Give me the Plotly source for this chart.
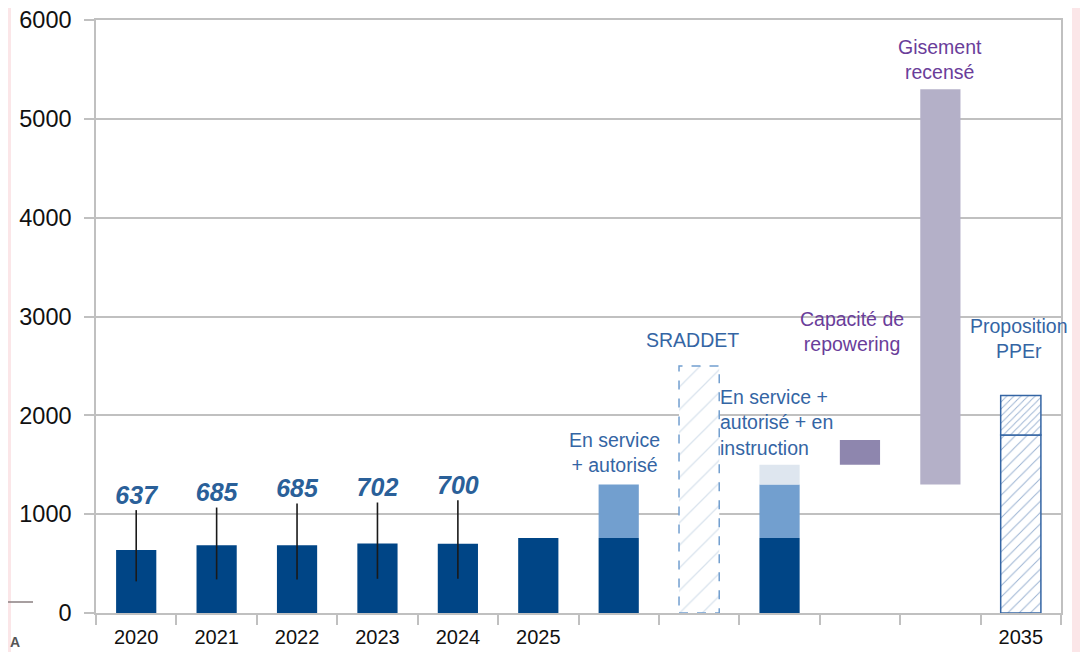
import plotly.graph_objects as go

# ---------------- data ----------------
categories = ["2020", "2021", "2022", "2023", "2024", "2025",
              " ", "  ", "   ", "    ", "     ", "2035"]
years_hist = ["2020", "2021", "2022", "2023", "2024"]
hist_values = [637, 685, 685, 702, 700]
hist_high = [1041, 1067, 1108, 1118, 1142]
hist_low = [320, 340, 340, 346, 346]
hist_labels = ["637", "685", "685", "702", "700"]

# stacked scenario bars
service_cats = ["2025", " ", "   "]
service_values = [760, 760, 760]
autorise_cats = [" ", "   "]
autorise_values = [540, 540]
instruction_cats = ["   "]
instruction_values = [200]

sraddet_cat = ["  "]
sraddet_value = [2500]

repowering_cat = ["    "]
repowering_low = [1500]
repowering_high = [1750]

gisement_cat = ["     "]
gisement_low = [1300]
gisement_high = [5300]

ppe_cat = ["2035"]
ppe_base = [1800]
ppe_high = [2200]

# ---------------- styles ----------------
FONT = "Liberation Sans"
DARK = "#004586"
LIGHT = "#729fcf"
VLIGHT = "#dee6ef"
REPOW = "#8e86ae"
GIS = "#b4b0c8"
BLUE_TXT = "#3465a4"
PURPLE_TXT = "#6a3d9a"
GRID = "#c0c0c0"
BAR_W = 0.5

W, H = 1088, 652
OFF = 8  # page body margin offset
# plot area in page pixels: left 96, right 1061, top 20, bottom 613
L = 96 - OFF
T = 20 - OFF
R = W - (1061 - OFF)
B = H - (613 - OFF)

fig = go.Figure()

# historical bars with range lines
fig.add_trace(go.Bar(
    x=years_hist, y=hist_values, width=BAR_W,
    marker=dict(color=DARK, line=dict(width=0)),
    error_y=dict(type="data", symmetric=False,
                 array=[h - v for h, v in zip(hist_high, hist_values)],
                 arrayminus=[v - l for v, l in zip(hist_values, hist_low)],
                 color="#1a1a1a", thickness=1.6, width=0),
    showlegend=False, hoverinfo="skip"))

fig.add_trace(go.Bar(
    x=service_cats, y=service_values, width=BAR_W,
    marker=dict(color=DARK, line=dict(width=0)),
    showlegend=False, hoverinfo="skip"))

fig.add_trace(go.Bar(
    x=autorise_cats, y=autorise_values, base=service_values[1:], width=BAR_W,
    marker=dict(color=LIGHT, line=dict(width=0)),
    showlegend=False, hoverinfo="skip"))

fig.add_trace(go.Bar(
    x=instruction_cats, y=instruction_values,
    base=[service_values[2] + autorise_values[1]], width=BAR_W,
    marker=dict(color=VLIGHT, line=dict(width=0)),
    showlegend=False, hoverinfo="skip"))

fig.add_trace(go.Bar(
    x=sraddet_cat, y=sraddet_value, width=BAR_W,
    marker=dict(color="white", line=dict(width=0),
                pattern=dict(shape="/", fgcolor="#b4c7dc", bgcolor="white",
                             size=16, solidity=0.08)),
    showlegend=False, hoverinfo="skip"))

fig.add_trace(go.Bar(
    x=repowering_cat, y=[h - l for h, l in zip(repowering_high, repowering_low)],
    base=repowering_low, width=BAR_W,
    marker=dict(color=REPOW, line=dict(width=0)),
    showlegend=False, hoverinfo="skip"))

fig.add_trace(go.Bar(
    x=gisement_cat, y=[h - l for h, l in zip(gisement_high, gisement_low)],
    base=gisement_low, width=BAR_W,
    marker=dict(color=GIS, line=dict(width=0)),
    showlegend=False, hoverinfo="skip"))

fig.add_trace(go.Bar(
    x=ppe_cat, y=ppe_base, width=BAR_W,
    marker=dict(color="white", line=dict(width=1.5, color=BLUE_TXT),
                pattern=dict(shape="/", fgcolor=BLUE_TXT, bgcolor="white",
                             size=8, solidity=0.12)),
    showlegend=False, hoverinfo="skip"))

fig.add_trace(go.Bar(
    x=ppe_cat, y=[h - b for h, b in zip(ppe_high, ppe_base)], base=ppe_base,
    width=BAR_W,
    marker=dict(color="white", line=dict(width=1.5, color=BLUE_TXT),
                pattern=dict(shape="/", fgcolor=BLUE_TXT, bgcolor="white",
                             size=5, solidity=0.18)),
    showlegend=False, hoverinfo="skip"))

# value labels above range lines
fig.add_trace(go.Scatter(
    x=years_hist, y=hist_high, mode="text", text=hist_labels,
    textposition="top center",
    textfont=dict(family=FONT, size=25, color="#2a6099", weight="bold",
                  style="italic"),
    showlegend=False, hoverinfo="skip", cliponaxis=False))

# dashed outline for SRADDET bar
s_idx = categories.index(sraddet_cat[0])
fig.add_shape(type="rect", xref="x", yref="y",
              x0=s_idx - BAR_W / 2, x1=s_idx + BAR_W / 2,
              y0=0, y1=sraddet_value[0],
              line=dict(color=LIGHT, width=1.5, dash="dash"),
              fillcolor="rgba(0,0,0,0)")

# ---------------- annotations ----------------
def note(text, x, y, color, align="center", xanchor="center"):
    fig.add_annotation(text=text, x=x, y=y, xref="x", yref="y",
                       showarrow=False, align=align, xanchor=xanchor,
                       yanchor="middle",
                       font=dict(family=FONT, size=19.5, color=color))

note("En service<br>+ autorisé", 5.95, 1627, BLUE_TXT)
note("SRADDET", 6.92, 2761, BLUE_TXT)
note("En service +<br>autorisé + en<br>instruction", 7.24, 1931, BLUE_TXT,
     align="left", xanchor="left")
note("Capacité de<br>repowering", 8.90, 2847, PURPLE_TXT)
note("Gisement<br>recensé", 9.99, 5605, PURPLE_TXT)
note("Proposition<br>PPEr", 10.98, 2781, BLUE_TXT)

# ---------------- page decorations (pink margins of the source) ----------------
pw = W - L - R
ph = H - T - B
def px(p):  # page pixel x -> paper
    return (p - OFF - L) / pw
def py(p):  # page pixel y -> paper
    return (H - B - (p - OFF)) / ph

PINK = "#fbe6e8"
fig.add_shape(type="rect", xref="paper", yref="paper", layer="below",
              x0=px(0), x1=px(11), y0=py(H + 10), y1=py(-10),
              fillcolor=PINK, line=dict(width=0))
fig.add_shape(type="rect", xref="paper", yref="paper", layer="below",
              x0=px(1072), x1=px(W + 10), y0=py(H + 10), y1=py(-10),
              fillcolor=PINK, line=dict(width=0))
fig.add_shape(type="line", xref="paper", yref="paper",
              x0=px(0), x1=px(33), y0=py(602), y1=py(602),
              line=dict(color="#8a7f80", width=1.5))
fig.add_annotation(text="<b>A</b>", xref="paper", yref="paper",
                   x=px(8), y=py(642), xanchor="left", yanchor="middle",
                   showarrow=False,
                   font=dict(family=FONT, size=14, color="#555555"))

# ---------------- layout ----------------
fig.update_layout(
    width=W, height=H,
    margin=dict(l=L, r=R, t=T, b=B, pad=0, autoexpand=False),
    paper_bgcolor="white", plot_bgcolor="white",
    barmode="overlay",
    bargap=0.5,
    font=dict(family=FONT, color="#111111"),
    xaxis=dict(
        type="category", categoryorder="array", categoryarray=categories,
        range=[-0.5, len(categories) - 0.5], automargin=False,
        tickson="boundaries", ticks="outside", ticklen=10, tickwidth=1.5,
        tickcolor=GRID, showline=True, linecolor=GRID, linewidth=1.5,
        mirror=True, ticklabelstandoff=5,
        showgrid=False, tickfont=dict(family=FONT, size=20, color="#111111"),
        ticklabeloverflow="allow",
        fixedrange=True),
    yaxis=dict(
        range=[0, 6000], dtick=1000, tick0=0, automargin=False,
        showgrid=True, gridcolor=GRID, gridwidth=1.5,
        zeroline=False, showline=True, linecolor=GRID, linewidth=1.5,
        mirror=True,
        ticks="outside", ticklen=10, tickwidth=1.5, tickcolor=GRID,
        ticklabelstandoff=8, ticklabeloverflow="allow",
        tickfont=dict(family=FONT, size=23.5, color="#111111"),
        fixedrange=True),
)

fig.write_html("out.html")
